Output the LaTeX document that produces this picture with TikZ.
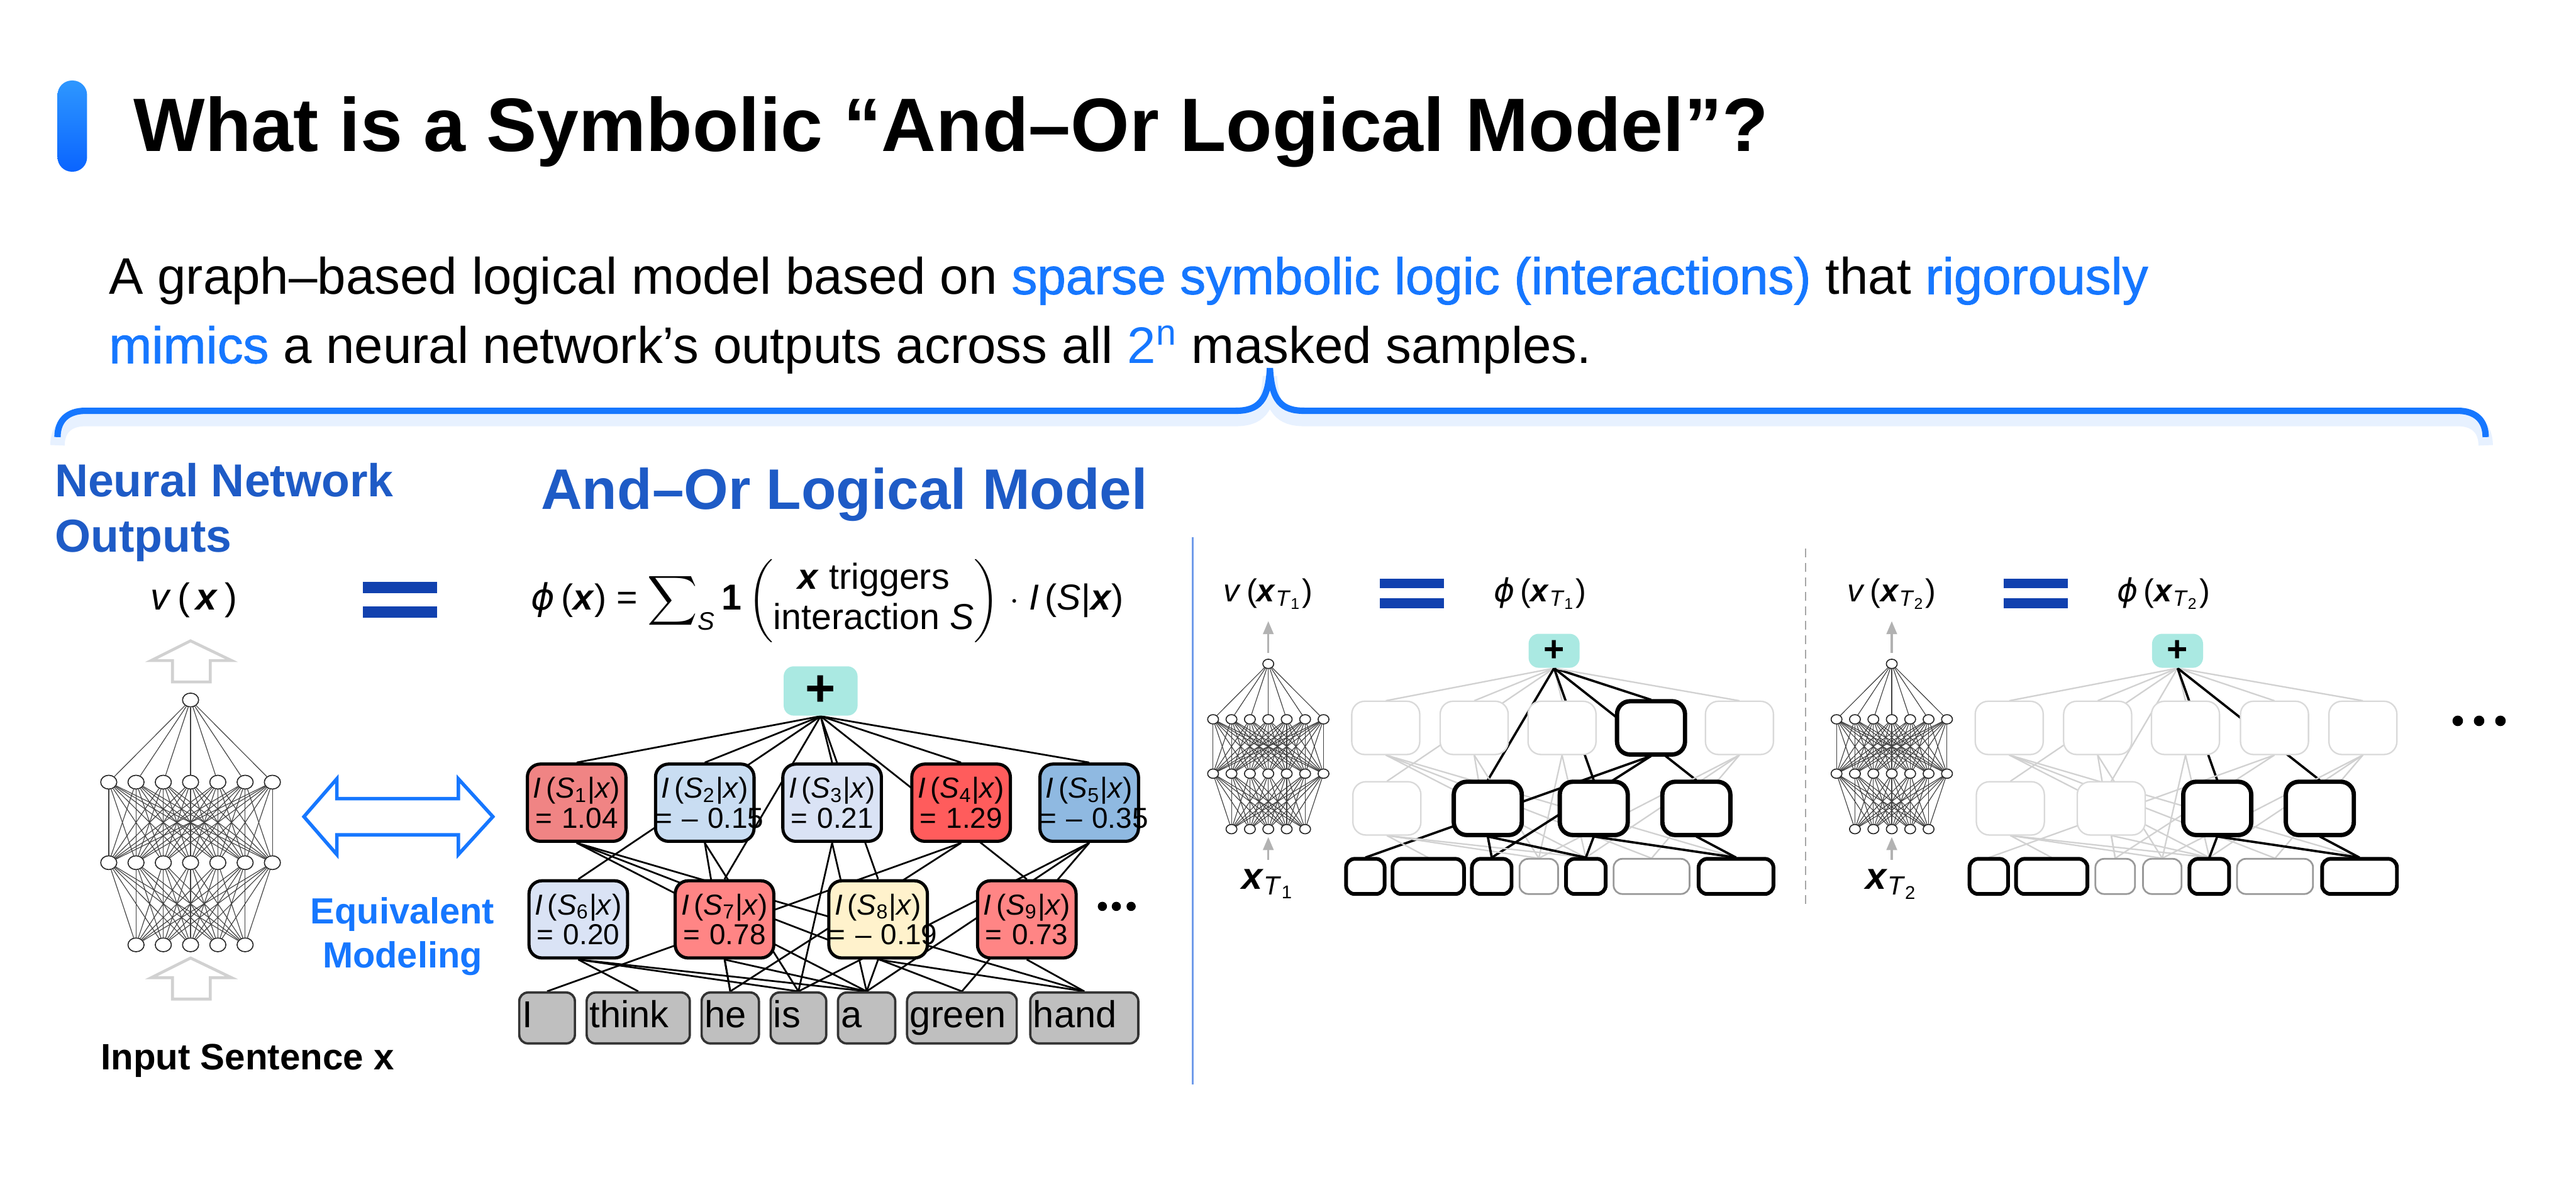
\documentclass[tikz,border=0pt]{standalone}
\usepackage{amsmath}
\usepackage{fontspec}
\setmainfont{Liberation Sans}
\newfontfamily\medfont[FakeBold=1.2]{Liberation Sans}
\newfontfamily\phifont{DejaVu Sans}
\usepackage{xcolor}
\usepackage{tikz}
\usetikzlibrary{shapes.geometric,arrows.meta}

\definecolor{brightblue}{HTML}{1677FF}
\definecolor{headblue}{HTML}{1E5BC6}
\definecolor{eqblue}{HTML}{1141AF}
\definecolor{sepblue}{HTML}{6F9BEA}
\definecolor{barlight}{HTML}{2E97FF}
\definecolor{bardark}{HTML}{0A64FF}
\definecolor{plusteal}{HTML}{AAE9E2}
\definecolor{wordgray}{HTML}{BFBFBF}
\definecolor{coral}{HTML}{F08484}
\definecolor{paleblue}{HTML}{C9DDF2}
\definecolor{lavender}{HTML}{DAE3F5}
\definecolor{brightred}{HTML}{FF5C5C}
\definecolor{steel}{HTML}{8FB9E1}
\definecolor{salmon}{HTML}{FF8585}
\definecolor{cream}{HTML}{FFF2CC}

\pgfdeclarelayer{bg}
\pgfdeclarelayer{back}
\pgfsetlayers{bg,back,main}

\newcommand{\bx}{\textbf{\textit{x}}}
\newcommand{\phisym}{{\phifont\itshape ϕ}}
\newcommand{\Ival}[2]{\textit{I}\,(\textit{S}\textsubscript{#1}|\textit{x})\\\mbox{= #2}}

% positions on the slide, in px: interaction boxes, words, and which words each interaction holds
\newcommand{\interlist}{1/351/488.5, 2/429/488.5, 3/506.5/488.5, 4/585/488.5, 5/663/488.5,
  6/352/559.5, 7/441/559.5, 8/534.5/559.5, 9/625/559.5}
\newcommand{\wordlist}{1/333/34/I, 2/388.5/63/think, 3/444.5/35/he, 4/486/34/is,
  5/527.5/35/a, 6/585.5/67/green, 7/660/66/hand}
\newcommand{\linklist}{1/5, 1/6, 1/7, 2/3, 2/4, 3/4, 3/5, 4/1, 4/3, 5/4, 5/5, 5/6,
  6/2, 6/4, 6/5, 7/3, 7/5, 8/5, 8/7, 9/7}

% small fully connected network
\newcommand{\neuralnet}[2]{%
  \begin{scope}[#2, transform shape, name prefix=#1-]
    \node[neuron] (top) at (0,0) {};
    \foreach \i in {1,...,7} {
      \node[neuron] (a\i) at ({(\i-4)*16.6},50) {};
      \node[neuron] (b\i) at ({(\i-4)*16.6},99) {};
    }
    \foreach \i in {2,...,6}
      \node[neuron] (c\i) at ({(\i-4)*16.6},149) {};
    \begin{pgfonlayer}{back}
      \foreach \i in {1,...,7} {
        \draw[wire] (top) -- (a\i);
        \foreach \j in {1,...,7}
          \draw[wire] (a\i) -- (b\j);
        \foreach \j in {2,...,6}
          \draw[wire] (b\i) -- (c\j);
      }
    \end{pgfonlayer}
  \end{scope}}

% the and-or graph again, small, with the triggered part in black
\newcommand{\maskedgraph}[3]{%
  \begin{scope}[shift={#2}, scale=0.69, transform shape, name prefix=#1-, #3]
    \node[plusbox] (plus) at (499.5,420.5) {+};
    \foreach \k/\x/\y in \interlist
      \node[mbox, s\k] (S\k) at (\x,\y) {};
    \foreach \k/\x/\bw/\wtxt in \wordlist
      \node[mword, w\k, minimum width=\bw*0.02cm] (w\k) at (\x,619.5) {};
    \begin{pgfonlayer}{back}
      \foreach \k/\x/\y in \interlist
        \draw[e\k] (plus.south) -- (S\k.north);
      \foreach \k/\j in \linklist
        \draw[e\k] (S\k.south) -- (w\j.north);
    \end{pgfonlayer}
  \end{scope}}

\begin{document}
\begin{tikzpicture}[
  x=0.02cm, y=-0.02cm,
  lbl/.style={inner sep=0pt},
  head/.style={lbl, anchor=base west, text=headblue, align=left},
  ibox/.style={draw, line width=1.1pt, rounded corners=4.5pt, text width=1.2cm, inner sep=0pt,
    minimum height=0.94cm, align=center, font=\fontsize{10}{10.4}\selectfont},
  plusbox/.style={fill=plusteal, rounded corners=3.5pt, minimum width=0.9cm, minimum height=0.6cm,
    inner sep=0pt, font=\fontsize{18}{18}\selectfont\bfseries},
  word/.style={draw=black!80, fill=wordgray, line width=0.8pt, rounded corners=3pt, inner xsep=1pt,
    inner ysep=0pt, minimum height=0.62cm, text height=9.5pt, text depth=2.7pt, align=left,
    font=\fontsize{13}{15}\selectfont},
  link/.style={draw=black, line width=0.6pt},
  mbox/.style={fill=white, rounded corners=4.5pt, minimum width=1.2cm, minimum height=0.94cm, inner sep=0pt},
  mword/.style={fill=white, rounded corners=3pt, minimum height=0.62cm, inner sep=0pt},
  dimbox/.style={draw=black!15, line width=0.5pt},
  litbox/.style={draw=black, line width=1.5pt},
  dimword/.style={draw=black!40, line width=0.6pt},
  litword/.style={draw=black, line width=1.3pt},
  dimedge/.style={draw=black!18, line width=0.5pt},
  litedge/.style={draw=black, line width=0.8pt},
  dim/.style={s#1/.style=dimbox, e#1/.style=dimedge},
  lit/.style={s#1/.style=litbox, e#1/.style=litedge},
  dimw/.style={w#1/.style=dimword},
  litw/.style={w#1/.style=litword},
  dim/.list={1,...,9}, dimw/.list={1,...,7},
  neuron/.style={ellipse, draw=black!85, line width=0.35pt, fill=white, minimum width=0.196cm,
    minimum height=0.168cm, inner sep=0pt},
  wire/.style={draw=black!75, line width=0.25pt},
  hollowarrow/.style={draw=black!18, line width=1pt, line join=miter},
  twin/.style={draw=brightblue, line width=1.2pt, line join=miter},
  tinyarrow/.style={-{Triangle[length=4.5pt,width=3.6pt]}, draw=black!30, line width=0.7pt},
  eqbar/.style={fill=eqblue},
  formula/.style={lbl, font=\fontsize{12.5}{14}\selectfont}
]
\useasboundingbox (0,0) rectangle (1568,722);
\begin{pgfonlayer}{bg}
  \fill[white] (0,0) rectangle (1568,722);
\end{pgfonlayer}

% title and lead text
\shade[top color=barlight, bottom color=bardark, rounded corners=5pt] (35,49) rectangle (53,104.5);
\node[lbl, anchor=base west, font=\fontsize{26.2}{30}\selectfont\bfseries] (title) at (81,92)
  {What is a Symbolic “And–Or Logical Model”?};
\node[lbl, anchor=base west, font=\fontsize{17.8}{20}\selectfont] (lead1) at (66,179)
  {A graph–based logical model based on {\medfont\color{brightblue}sparse symbolic logic (interactions)} that {\medfont\color{brightblue}rigorously}};
\node[lbl, anchor=base west, font=\fontsize{17.8}{20}\selectfont] (lead2) at (66,221)
  {{\medfont\color{brightblue}mimics} a neural network’s outputs across all {\color{brightblue}2\textsuperscript{n}} masked samples.};

% brace
\draw[brightblue, line width=5pt, opacity=0.10, yshift=-0.1cm]
  (35,266) .. controls (35,256) and (41,250) .. (52,250) -- (752,250)
  .. controls (766,250) and (772,244) .. (773,224) .. controls (774,244) and (780,250) .. (794,250)
  -- (1496,250) .. controls (1507,250) and (1513,256) .. (1513,266);
\draw[brightblue, line width=2.2pt]
  (35,266) .. controls (35,256) and (41,250) .. (52,250) -- (752,250)
  .. controls (766,250) and (772,244) .. (773,224) .. controls (774,244) and (780,250) .. (794,250)
  -- (1496,250) .. controls (1507,250) and (1513,256) .. (1513,266);

% headings
\node[head, font=\fontsize{16}{19.3}\selectfont\bfseries] (nnhead) at (33,336) {Neural Network\\Outputs};
\node[head, font=\fontsize{19.8}{22}\selectfont\bfseries] (aohead) at (329,310) {And–Or Logical Model};

% neural network on the left
\node[lbl, anchor=base, font=\fontsize{13}{15}\selectfont] (vxa) at (118,371) {\textit{v}\,(\,\bx\,)};
\neuralnet{nna}{shift={(116,426)}}
\draw[hollowarrow] (116,390) -- (141,402) -- (128,402) -- (128,415) -- (105,415) -- (105,402) -- (92,402) -- cycle;
\draw[hollowarrow] (116,583) -- (141,595) -- (128,595) -- (128,608) -- (105,608) -- (105,595) -- (92,595) -- cycle;
\node[lbl, anchor=base west, font=\fontsize{12.7}{15}\selectfont\bfseries] (input) at (61,651) {Input Sentence x};

\fill[eqbar] (221,354) rectangle (266,361);
\fill[eqbar] (221,369) rectangle (266,376);

\draw[twin] (185,497) -- (205,474) -- (205,486) -- (279,486) -- (279,474) -- (300,497)
  -- (279,520) -- (279,508) -- (205,508) -- (205,520) -- cycle;
\node[lbl, anchor=base, align=center, text=brightblue, font=\fontsize{12.6}{15.3}\selectfont\bfseries]
  (equiv) at (245,589) {Equivalent\\Modeling};

% and-or model
\node[formula, anchor=base west] (phia) at (323,371)
  {\phisym\,(\bx) = $\displaystyle\sum\nolimits_{\text{\textit{S}}}$\,\textbf{1}\,$\left(\begin{tabular}{@{}c@{}}\bx{} triggers\\interaction \textit{S}\end{tabular}\right)$ $\cdot$ \textit{I}\,(\textit{S}|\bx)};

\node[plusbox] (plus) at (499.5,420.5) {+};
\node[ibox, fill=coral] (S1) at (351,488.5) {\Ival{1}{1.04}};
\node[ibox, fill=paleblue] (S2) at (429,488.5) {\Ival{2}{– 0.15}};
\node[ibox, fill=lavender] (S3) at (506.5,488.5) {\Ival{3}{0.21}};
\node[ibox, fill=brightred] (S4) at (585,488.5) {\Ival{4}{1.29}};
\node[ibox, fill=steel] (S5) at (663,488.5) {\Ival{5}{– 0.35}};
\node[ibox, fill=lavender] (S6) at (352,559.5) {\Ival{6}{0.20}};
\node[ibox, fill=salmon] (S7) at (441,559.5) {\Ival{7}{0.78}};
\node[ibox, fill=cream] (S8) at (534.5,559.5) {\Ival{8}{– 0.19}};
\node[ibox, fill=salmon] (S9) at (625,559.5) {\Ival{9}{0.73}};
\foreach \k/\x/\bw/\wtxt [evaluate=\bw as \tw using \bw*0.5669-2] in \wordlist
  \node[word, text width=\tw pt] (w\k) at (\x,619.5) {\wtxt};
\begin{pgfonlayer}{back}
  \foreach \k in {1,...,9}
    \draw[link] (plus.south) -- (S\k.north);
  \foreach \k/\j in \linklist
    \draw[link] (S\k.south) -- (w\j.north);
\end{pgfonlayer}
\foreach \x in {671,679.5,688.5}
  \fill (\x,551.6) circle[radius=2.8];

\draw[sepblue, line width=0.6pt] (726,327) -- (726,660);

% masked sample T1
\node[formula, anchor=base, font=\fontsize{11}{13}\selectfont] (vxb) at (772,366)
  {\textit{v}\,(\bx\textsubscript{\textit{T}\textsubscript{1}})};
\fill[eqbar] (840,352) rectangle (879,358);
\fill[eqbar] (840,364) rectangle (879,370);
\node[formula, anchor=base, font=\fontsize{11}{13}\selectfont] (phb) at (937.5,366)
  {\phisym\,(\bx\textsubscript{\textit{T}\textsubscript{1}})};
\node[formula, anchor=base, font=\fontsize{13}{15}\selectfont] (xtb) at (772,541)
  {\bx\textsubscript{\textit{T}\textsubscript{1}}};
\neuralnet{nnb}{shift={(772,404)}, scale=0.675}
\draw[tinyarrow, shorten <=2pt, shorten >=4pt] (nnb-top) -- (vxb);
\draw[tinyarrow, shorten <=3pt, shorten >=1pt] (xtb) -- (nnb-c4);
\maskedgraph{ta}{(601.3,105.9)}{lit/.list={4,7,8,9}, litw/.list={1,2,3,5,7}}

\draw[black!35, line width=0.5pt, dash pattern=on 3pt off 2pt] (1099,334) -- (1099,552);

% masked sample T2
\node[formula, anchor=base, font=\fontsize{11}{13}\selectfont] (vxc) at (1151.5,366)
  {\textit{v}\,(\bx\textsubscript{\textit{T}\textsubscript{2}})};
\fill[eqbar] (1219.5,352) rectangle (1258.5,358);
\fill[eqbar] (1219.5,364) rectangle (1258.5,370);
\node[formula, anchor=base, font=\fontsize{11}{13}\selectfont] (phc) at (1317,366)
  {\phisym\,(\bx\textsubscript{\textit{T}\textsubscript{2}})};
\node[formula, anchor=base, font=\fontsize{13}{15}\selectfont] (xtc) at (1151.5,541)
  {\bx\textsubscript{\textit{T}\textsubscript{2}}};
\neuralnet{nnc}{shift={(1151.5,404)}, scale=0.675}
\draw[tinyarrow, shorten <=2pt, shorten >=4pt] (nnc-top) -- (vxc);
\draw[tinyarrow, shorten <=3pt, shorten >=1pt] (xtc) -- (nnc-c4);
\maskedgraph{tb}{(980.8,105.9)}{lit/.list={8,9}, litw/.list={1,2,5,7}}

\foreach \x in {1496,1509,1522}
  \fill (\x,438.7) circle[radius=3.2];
\end{tikzpicture}
\end{document}
